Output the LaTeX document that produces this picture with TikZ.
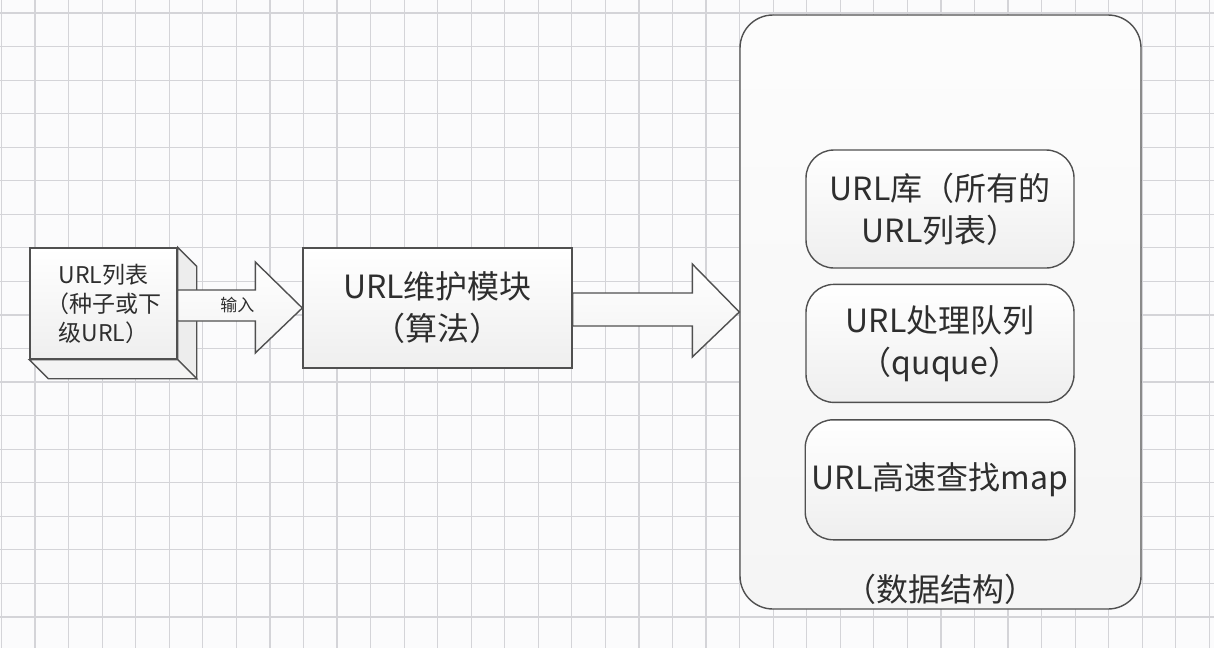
\documentclass[tikz,border=0pt]{standalone}
\usepackage{fontspec}
\setmainfont{Noto Sans CJK SC}
\usetikzlibrary{positioning, calc, backgrounds}

\definecolor{gridgray}{HTML}{D4D4D8}
\definecolor{linegray}{HTML}{505050}
\definecolor{paper}{HTML}{FBFBFC}
\definecolor{textgray}{HTML}{2E2E2E}

\begin{document}
\begin{tikzpicture}[x=0.5pt, y=-0.5pt, node distance=8pt,
    gridline/.style={draw=gridgray, line width=0.6pt},
    box/.style={draw=linegray, line width=0.7pt, text=textgray, align=center, top color=white, bottom color=gray!13},
    roundbox/.style={box, rounded corners=14pt, minimum width=134pt, font=\fontsize{16}{21}\selectfont},
    blockarrow/.style={draw=linegray, line width=0.7pt, top color=white, bottom color=gray!10, line join=miter}]
    % background and grid
    \fill[paper] (0,0) rectangle (1214,648);
    \useasboundingbox (0,0) rectangle (1214,648);
    \foreach \k in {0,...,36} \draw[gridline] ({1.5+33.55*\k},0) -- ({1.5+33.55*\k},648);
    \foreach \k in {0,...,18} \draw[gridline] (0,{13+33.55*\k}) -- (1214,{13+33.55*\k});

    % data structure container
    \node[draw=linegray, line width=0.7pt, rounded corners=16.5pt, top color=white!98!gray, bottom color=gray!8, minimum width=200.5pt, minimum height=297pt] (store) at (940.5,312) {};
    \node[text=textgray, font=\fontsize{16}{21}\selectfont] (storelabel) at ($(store.south)+(0,-20)$) {（数据结构）};

    \node[roundbox, minimum height=59pt] (urldb) at (940,209) {URL库（所有的\\URL列表）};
    \node[roundbox, minimum height=59pt, below=7.5pt of urldb] (queue) {URL处理队列\\（ququ{}e）};
    \node[roundbox, minimum height=60pt, below=8pt of queue] (lookup) {URL高速查找map};

    % maintenance module
    \node[box, minimum width=134.5pt, minimum height=60pt, font=\fontsize{16}{21}\selectfont] (algo) at (437.5,308) {URL维护模块\\（算法）};

    % url list as a 3d box
    \node[box, minimum width=73.5pt, minimum height=55.5pt, font=\fontsize{11.5}{14.5}\selectfont] (list) at (103.5,303.5) {URL列表\\（种子或下\\级URL）};
    \draw[draw=linegray, line width=0.7pt, fill=gray!14, line join=miter] (list.north east) -- ++(19,19) -- ($(list.south east)+(19,19)$) -- (list.south east) -- cycle;
    \draw[draw=linegray, line width=0.7pt, fill=gray!9, line join=miter] (list.south west) -- ++(19,19) -- ($(list.south east)+(19,19)$) -- (list.south east) -- cycle;

    % arrows
    \draw[blockarrow] ($(list.east |- algo.west)+(0,-18)$) -- ($(algo.west)+(-47,-18)$) -- ($(algo.west)+(-47,-46)$) -- (algo.west) -- ($(algo.west)+(-47,45)$) -- ($(algo.west)+(-47,13)$) -- ($(list.east |- algo.west)+(0,13)$) -- cycle;
    \node[text=textgray, font=\fontsize{8.5}{10}\selectfont] (inlabel) at ($(algo.west)+(-65,-3)$) {输入};
    \draw[blockarrow] ($(algo.east |- store.west)+(0,-19)$) -- ($(store.west)+(-47,-19)$) -- ($(store.west)+(-47,-48)$) -- (store.west) -- ($(store.west)+(-47,45)$) -- ($(store.west)+(-47,14)$) -- ($(algo.east |- store.west)+(0,14)$) -- cycle;
\end{tikzpicture}
\end{document}
